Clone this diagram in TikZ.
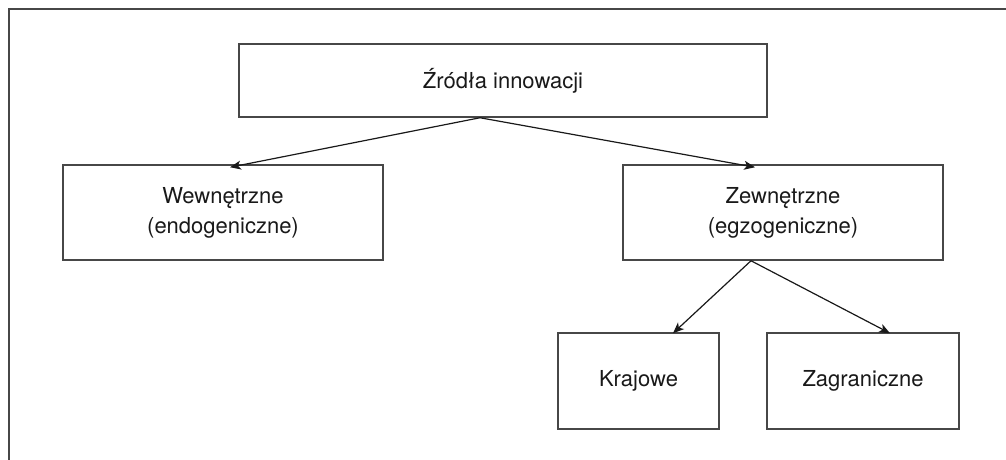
\documentclass[tikz,border=0pt]{standalone}
\usepackage{fontspec}
\setmainfont{TeX Gyre Heros}
\usetikzlibrary{arrows.meta}
\begin{document}
\begin{tikzpicture}[x=1pt,y=-1pt,
  box/.style={draw=black!72, line width=1.5pt, fill=white, align=center,
    inner sep=0pt, font=\fontsize{22}{30}\selectfont, text=black!90},
  link/.style={-{Stealth[length=11pt,width=9pt,inset=3pt]}, line width=1.2pt, draw=black!90},
  frameline/.style={draw=black!72, line width=2pt}]
\useasboundingbox (0,0) rectangle (1006,460);
% outer frame (left and top edges)
\draw[frameline] (8.5,460) -- (8.5,9.5) -- (1006,9.5);

\node[box, minimum width=528pt, minimum height=73pt] (src) at (503,80.5) {Źródła innowacji};
\node[box, minimum width=320pt, minimum height=95pt] (inner) at (223,212.5) {Wewnętrzne\\(endogeniczne)};
\node[box, minimum width=320pt, minimum height=95pt] (outer) at (783,212.5) {Zewnętrzne\\(egzogeniczne)};
\node[box, minimum width=161pt, minimum height=96pt] (dom) at (638.5,381) {Krajowe};
\node[box, minimum width=192pt, minimum height=96pt] (abr) at (863,381) {Zagraniczne};

\draw[link] ([xshift=-23pt]src.south) -- ([xshift=7pt,yshift=-3pt]inner.north);
\draw[link] ([xshift=-23pt]src.south) -- ([xshift=-28pt,yshift=-3pt]outer.north);
\draw[link] ([xshift=-32pt]outer.south) -- ([xshift=34.5pt,yshift=-1pt]dom.north);
\draw[link] ([xshift=-32pt]outer.south) -- ([xshift=27pt,yshift=-1pt]abr.north);
\end{tikzpicture}
\end{document}
